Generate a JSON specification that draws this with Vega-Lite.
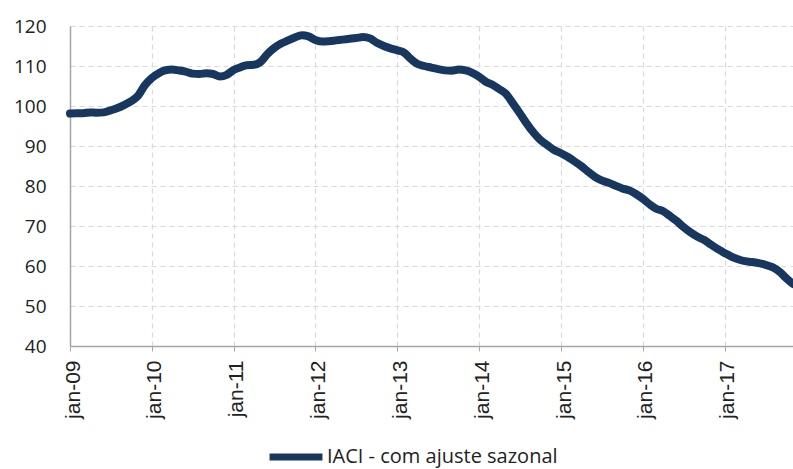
{
  "$schema": "https://vega.github.io/schema/vega-lite/v6.json",
  "autosize": {"type": "none"},
  "padding": {"left": 70, "top": 26, "right": 0, "bottom": 123},
  "width": 723,
  "height": 320,
  "background": "white",
  "config": {"view": {"stroke": null}},
  "data": {"values": [
    {"date": "2009-01-01", "v": 98.1}, {"date": "2009-02-01", "v": 98.2}, {"date": "2009-03-01", "v": 98.2}, {"date": "2009-04-01", "v": 98.4},
    {"date": "2009-05-01", "v": 98.3}, {"date": "2009-06-01", "v": 98.4}, {"date": "2009-07-01", "v": 98.9}, {"date": "2009-08-01", "v": 99.5},
    {"date": "2009-09-01", "v": 100.3}, {"date": "2009-10-01", "v": 101.2}, {"date": "2009-11-01", "v": 102.6}, {"date": "2009-12-01", "v": 105.2},
    {"date": "2010-01-01", "v": 107.0}, {"date": "2010-02-01", "v": 108.2}, {"date": "2010-03-01", "v": 108.9}, {"date": "2010-04-01", "v": 109.1},
    {"date": "2010-05-01", "v": 108.9}, {"date": "2010-06-01", "v": 108.6}, {"date": "2010-07-01", "v": 108.1}, {"date": "2010-08-01", "v": 108.0},
    {"date": "2010-09-01", "v": 108.2}, {"date": "2010-10-01", "v": 108.0}, {"date": "2010-11-01", "v": 107.4}, {"date": "2010-12-01", "v": 107.8},
    {"date": "2011-01-01", "v": 109.0}, {"date": "2011-02-01", "v": 109.7}, {"date": "2011-03-01", "v": 110.2}, {"date": "2011-04-01", "v": 110.3},
    {"date": "2011-05-01", "v": 111.0}, {"date": "2011-06-01", "v": 113.0}, {"date": "2011-07-01", "v": 114.5}, {"date": "2011-08-01", "v": 115.6},
    {"date": "2011-09-01", "v": 116.4}, {"date": "2011-10-01", "v": 117.1}, {"date": "2011-11-01", "v": 117.7}, {"date": "2011-12-01", "v": 117.4},
    {"date": "2012-01-01", "v": 116.5}, {"date": "2012-02-01", "v": 116.1}, {"date": "2012-03-01", "v": 116.2}, {"date": "2012-04-01", "v": 116.4},
    {"date": "2012-05-01", "v": 116.6}, {"date": "2012-06-01", "v": 116.8}, {"date": "2012-07-01", "v": 117.0}, {"date": "2012-08-01", "v": 117.25},
    {"date": "2012-09-01", "v": 116.9}, {"date": "2012-10-01", "v": 115.8}, {"date": "2012-11-01", "v": 115.0}, {"date": "2012-12-01", "v": 114.4},
    {"date": "2013-01-01", "v": 113.9}, {"date": "2013-02-01", "v": 113.3}, {"date": "2013-03-01", "v": 111.8}, {"date": "2013-04-01", "v": 110.5},
    {"date": "2013-05-01", "v": 110.0}, {"date": "2013-06-01", "v": 109.6}, {"date": "2013-07-01", "v": 109.2}, {"date": "2013-08-01", "v": 108.9},
    {"date": "2013-09-01", "v": 108.8}, {"date": "2013-10-01", "v": 109.1}, {"date": "2013-11-01", "v": 108.9}, {"date": "2013-12-01", "v": 108.3},
    {"date": "2014-01-01", "v": 107.3}, {"date": "2014-02-01", "v": 106.0}, {"date": "2014-03-01", "v": 105.3}, {"date": "2014-04-01", "v": 104.2},
    {"date": "2014-05-01", "v": 103.0}, {"date": "2014-06-01", "v": 100.6}, {"date": "2014-07-01", "v": 98.2}, {"date": "2014-08-01", "v": 95.6},
    {"date": "2014-09-01", "v": 93.3}, {"date": "2014-10-01", "v": 91.5}, {"date": "2014-11-01", "v": 90.2}, {"date": "2014-12-01", "v": 89.0},
    {"date": "2015-01-01", "v": 88.2}, {"date": "2015-02-01", "v": 87.25}, {"date": "2015-03-01", "v": 86.2}, {"date": "2015-04-01", "v": 85.0},
    {"date": "2015-05-01", "v": 83.6}, {"date": "2015-06-01", "v": 82.3}, {"date": "2015-07-01", "v": 81.4}, {"date": "2015-08-01", "v": 80.8},
    {"date": "2015-09-01", "v": 80.1}, {"date": "2015-10-01", "v": 79.4}, {"date": "2015-11-01", "v": 78.9}, {"date": "2015-12-01", "v": 78.0},
    {"date": "2016-01-01", "v": 76.8}, {"date": "2016-02-01", "v": 75.4}, {"date": "2016-03-01", "v": 74.3}, {"date": "2016-04-01", "v": 73.7},
    {"date": "2016-05-01", "v": 72.5}, {"date": "2016-06-01", "v": 71.2}, {"date": "2016-07-01", "v": 69.7}, {"date": "2016-08-01", "v": 68.4},
    {"date": "2016-09-01", "v": 67.3}, {"date": "2016-10-01", "v": 66.5}, {"date": "2016-11-01", "v": 65.3}, {"date": "2016-12-01", "v": 64.2},
    {"date": "2017-01-01", "v": 63.2}, {"date": "2017-02-01", "v": 62.3}, {"date": "2017-03-01", "v": 61.7}, {"date": "2017-04-01", "v": 61.2},
    {"date": "2017-05-01", "v": 61.0}, {"date": "2017-06-01", "v": 60.7}, {"date": "2017-07-01", "v": 60.3}, {"date": "2017-08-01", "v": 59.7},
    {"date": "2017-09-01", "v": 58.6}, {"date": "2017-10-01", "v": 57.0}, {"date": "2017-11-01", "v": 55.5}
  ]},
  "mark": {"type": "line", "strokeWidth": 8, "interpolate": "monotone", "strokeCap": "round", "strokeJoin": "round"},
  "encoding": {
    "x": {
      "field": "date", "type": "temporal",
      "scale": {"domain": ["2009-01-01", "2017-11-01"], "nice": false},
      "axis": {
        "title": null,
        "tickCount": {"interval": "year", "step": 1},
        "labelExpr": "'jan-' + timeFormat(datum.value, '%y')",
        "labelAngle": -90,
        "labelFont": "Liberation Sans",
        "labelFontSize": 21,
        "labelColor": "#222222",
        "labelPadding": 9,
        "labelOffset": 3,
        "tickSize": 5,
        "tickColor": "#a6a6a6",
        "domainColor": "#a6a6a6",
        "domainWidth": 1.5,
        "grid": true,
        "gridColor": "#d9d9d9",
        "gridDash": [5, 4],
        "gridWidth": 1.2
      }
    },
    "y": {
      "field": "v", "type": "quantitative",
      "scale": {"domain": [40, 120], "nice": false},
      "axis": {
        "title": null,
        "values": [40, 50, 60, 70, 80, 90, 100, 110, 120],
        "labelFont": "Open Sans",
        "labelFontSize": 19,
        "labelColor": "#222222",
        "ticks": false,
        "labelPadding": 24,
        "domainColor": "#a6a6a6",
        "domainWidth": 1.5,
        "grid": true,
        "gridColor": "#d9d9d9",
        "gridDash": [5, 4],
        "gridWidth": 1.2
      }
    },
    "color": {
      "datum": "IACI - com ajuste sazonal",
      "type": "nominal",
      "scale": {"range": ["#17375E"]},
      "legend": {
        "title": null,
        "orient": "none",
        "legendX": 196,
        "legendY": 401,
        "symbolType": "stroke",
        "symbolSize": 2800,
        "symbolStrokeWidth": 7,
        "labelFont": "Open Sans",
        "labelFontSize": 20,
        "labelColor": "#222222",
        "labelOffset": 1,
        "labelLimit": 500
      }
    }
  }
}
